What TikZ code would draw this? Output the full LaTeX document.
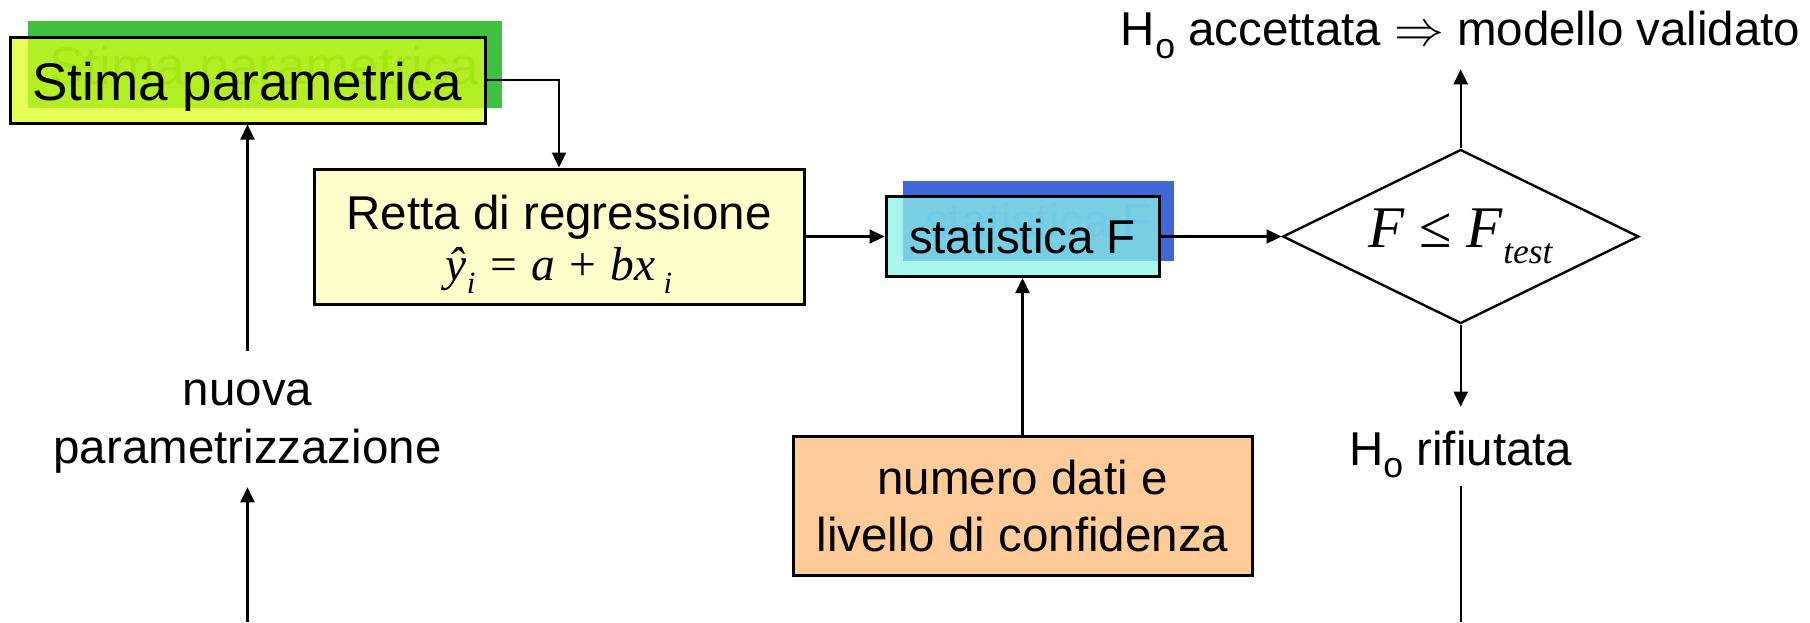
\documentclass[tikz,border=0pt]{standalone}
\usepackage{fontspec}
\setmainfont{Liberation Sans}
\newfontfamily\serifit{Liberation Serif}
\usepackage{graphicx}
\usetikzlibrary{arrows.meta,positioning,shapes.geometric,backgrounds}
\definecolor{stimagreen}{RGB}{64,192,64}
\definecolor{stimalime}{RGB}{220,255,28}
\definecolor{stimaghost}{RGB}{0,160,0}
\definecolor{rettayellow}{RGB}{255,255,204}
\definecolor{statblue}{RGB}{65,102,215}
\definecolor{statcyan}{RGB}{139,242,232}
\definecolor{statghost}{RGB}{30,80,230}
\definecolor{numpeach}{RGB}{255,204,153}
\newcommand{\lowsub}[2][0.75]{\raisebox{-0.27em}{\scalebox{#1}{#2}}}

\begin{document}
\begin{tikzpicture}[
    x=0.5pt, y=-0.5pt,
    box/.style={rectangle, draw=black, line width=1.5pt, inner sep=0pt, align=center, font=\fontsize{23.75}{28.5}\selectfont},
    ghost/.style={rectangle, inner sep=0pt, align=center, font=\fontsize{23.75}{28.5}\selectfont},
    label/.style={inner sep=0pt, align=center, font=\fontsize{23.75}{29}\selectfont},
    arrow/.style={-{Triangle[length=7.5pt,width=7pt]}, line width=1.1pt},
    link/.style={line width=1.1pt}
]
\useasboundingbox (0,0) rectangle (1810,622);

\node[box, fill=stimalime, fill opacity=0.75, text opacity=1, minimum width=237.5pt, minimum height=43pt, font=\fontsize{26.5}{30}\selectfont, text height=20pt, text depth=0pt] (stima) at (247.5,80) {Stima parametrica};
\node[box, fill=rettayellow, minimum width=245pt, minimum height=67.5pt, font=\fontsize{23.75}{25.5}\selectfont] (retta) at (559,236.5) {\rule{0pt}{25pt}Retta di regressione\\ {\serifit\itshape ŷ\lowsub[0.65]{i} = a + bx\,\lowsub[0.65]{i}}};
\node[box, fill=statcyan, fill opacity=0.75, text opacity=1, minimum width=136.5pt, minimum height=40pt, right=39.5pt of retta] (stat) {statistica F};
\node[diamond, draw, line width=1.2pt, shape aspect=2, minimum width=178pt, minimum height=87pt, inner sep=0pt, right=60.5pt of stat, font=\serifit\fontsize{29.5}{30}\selectfont] (dec) {\textit{F} ≤ \textit{F}\lowsub[0.6]{\textit{test}}};
\node[box, fill=numpeach, minimum width=229.5pt, minimum height=69.5pt, below=78.5pt of stat] (numero) {numero dati e\\livello di confidenza};

\node[label, inner ysep=5pt, above=39.5pt of dec] (acc) {H\lowsub{o} accettata $\Rightarrow$ modello validato};
\node[label, minimum height=39pt, text height=19pt, text depth=0pt, below=41pt of dec] (rif) {H\lowsub{o} rifiutata};
\node[label, minimum height=68pt, below=113pt of stima] (nuova) {\rule{0pt}{21pt}nuova\\parametrizzazione};

% shadow copies behind the coloured boxes
\begin{scope}[on background layer]
\node[ghost, fill=stimagreen, text=stimaghost, minimum width=237pt, minimum height=43.5pt, font=\fontsize{26.5}{30}\selectfont, text height=20pt, text depth=0pt] (stimaSh) at ([shift={(17,-16)}]stima.center) {Stima parametrica};
\node[ghost, fill=statblue, text=statghost, minimum width=135.5pt, minimum height=40pt] (statSh) at ([shift={(16,-16)}]stat.center) {statistica F};
\end{scope}

\coordinate (loopL) at (nuova.south |- 0,622);
\coordinate (loopR) at (loopL -| rif.south);

\draw[arrow] (stima.east) -| (retta.north);
\draw[arrow] (retta.east) -- (stat.west);
\draw[arrow] (stat.east) -- (dec.west);
\draw[arrow] (numero.north) -- (stat.south);
\draw[arrow] (dec.north) -- (acc.south);
\draw[arrow] (dec.south) -- (rif.north);
\draw[link] (rif.south) -- (loopR);
\draw[arrow] (loopL) -- (nuova.south);
\draw[arrow] (nuova.north) -- (stima.south);
\end{tikzpicture}
\end{document}
